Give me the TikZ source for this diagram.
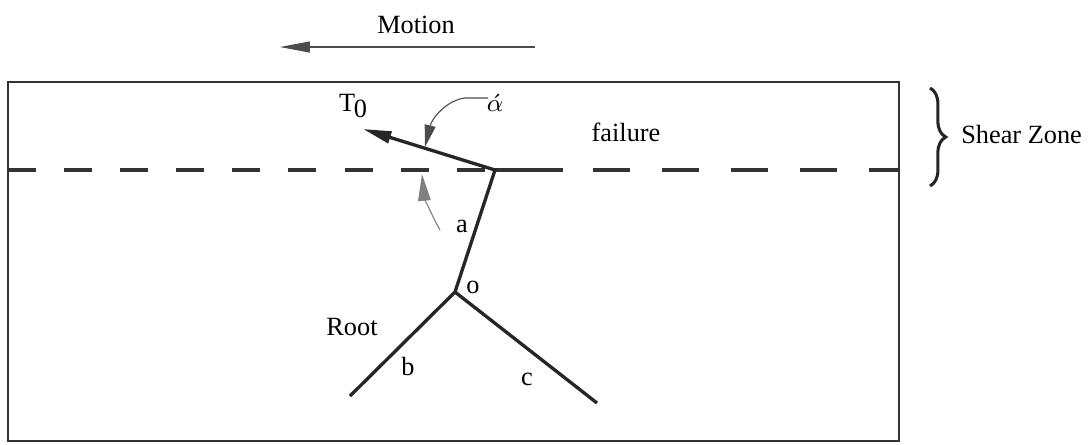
\documentclass[tikz,border=0pt]{standalone}
\usepackage{fontspec}
\setmainfont{Liberation Serif}
\usetikzlibrary{positioning, arrows.meta, decorations.pathreplacing}
\tikzset{
  soilbox/.style={draw=black!80, line width=0.9pt},
  rootline/.style={draw=black!85, line width=1.2pt, line join=miter},
  slipleft/.style={draw=black!80, line width=1.1pt, dash pattern=on 0.356cm off 0.356cm},
  slipright/.style={draw=black!80, line width=1.1pt, dash pattern=on 0.47cm off 0.406cm},
  leader/.style={draw=black!70, line width=0.4pt},
  zonebrace/.style={draw=black!85, line width=1.1pt, decorate,
    decoration={brace, amplitude=0.2cm}},
  lbl/.style={font=\fontsize{9.5}{11}\selectfont, inner sep=1pt},
}
\begin{document}
\begin{tikzpicture}[x=0.0127cm, y=-0.0127cm]
  \useasboundingbox (0,0) rectangle (1090,444);
  % motion
  \node[lbl] (motion) at (416,25) {Motion};
  \coordinate (mstart) at (535,47);
  \coordinate (mend) at (280,47);
  \draw[leader, -{Triangle[length=3.8mm,width=1.4mm]}] (mstart) -- (mend);
  % soil block
  \draw[soilbox] (8,82) rectangle (899,441);
  \coordinate (sl) at (8,170);
  \coordinate (top) at (495,170);
  \coordinate (sm) at (563,170);
  \coordinate (sr) at (593,170);
  \coordinate (se) at (899,170);
  \draw[slipleft] (sl) -- (top);
  \draw[draw=black!80, line width=1.1pt] (top) -- (sm);
  \draw[slipright] (sr) -- (se);
  % root
  \coordinate (fork) at (455,292);
  \coordinate (endb) at (350,396);
  \coordinate (endc) at (597,403);
  \coordinate (tipT) at (363,129);
  \draw[rootline, -{Triangle[length=3.6mm,width=1.5mm]}] (endb) -- (fork) -- (top) -- (tipT);
  \draw[rootline] (fork) -- (endc);
  % angle arrows
  \coordinate (astart) at (488,98);
  \coordinate (aknee) at (465,98);
  \coordinate (ahit) at (425,147);
  \draw[leader, -{Triangle[length=2.8mm,width=1.4mm]}] (astart) -- (aknee)
    .. controls (447,100) and (432,118) .. (ahit);
  \coordinate (bstart) at (440,230);
  \coordinate (bhit) at (422,174);
  \draw[leader, draw=black!50, -{Triangle[length=3.4mm,width=1.6mm]}] (bstart)
    .. controls (431,214) and (424,196) .. (bhit);
  % shear zone brace
  \coordinate (btop) at (930,88);
  \coordinate (bbot) at (930,186);
  \draw[zonebrace] (btop) -- (bbot);
  % labels
  \node[lbl] (alpha) at (495,103) {$\acute{\alpha}$};
  \node[lbl] (tnot) at (353,106) {T\kern-0.5pt\raisebox{-0.55ex}{0}};
  \node[lbl] (failure) at (626,132) {failure};
  \node[lbl] (la) at (462,226) {a};
  \node[lbl] (lo) at (473,287) {o};
  \node[lbl] (root) at (352,327) {Root};
  \node[lbl] (lb) at (408,366) {b};
  \node[lbl] (lc) at (527,379) {c};
  \node[lbl, anchor=west] (zone) at (958,134) {Shear Zone};
\end{tikzpicture}
\end{document}
